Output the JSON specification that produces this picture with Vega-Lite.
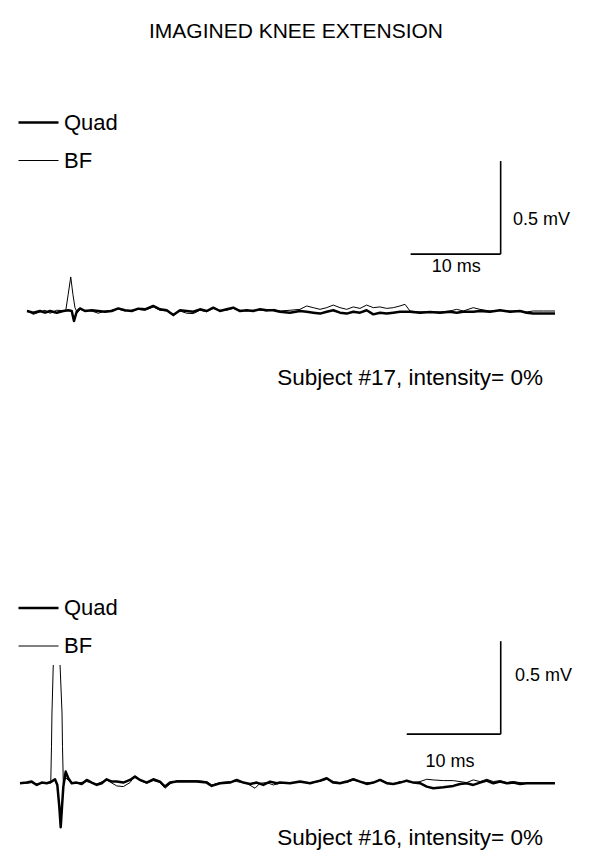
{
"$schema": "https://vega.github.io/schema/vega-lite/v6.json",
"background": "white",
"padding": {"top": 20, "left": 0, "right": 0, "bottom": 0},
"autosize": {"type": "pad"},
"config": {"view": {"stroke": null}, "font": "Liberation Sans"},
"title": {"text": "IMAGINED KNEE EXTENSION", "fontSize": 21, "fontWeight": "normal", "font": "Liberation Sans", "color": "black", "anchor": "middle", "offset": 19.5},
"spacing": 191,
"resolve": {"scale": {"x": "independent", "y": "independent", "strokeWidth": "independent"}, "legend": {"strokeWidth": "independent"}},
"datasets": {
"trace17": [
{"muscle":"Quad","t":0,"v":0},{"muscle":"Quad","t":0.70,"v":-0.009},{"muscle":"Quad","t":1.44,"v":0},{"muscle":"Quad","t":2.0,"v":-0.009},{"muscle":"Quad","t":2.56,"v":0},{"muscle":"Quad","t":3.30,"v":-0.009},{"muscle":"Quad","t":4.03,"v":0},{"muscle":"Quad","t":4.59,"v":0.004},{"muscle":"Quad","t":4.97,"v":0},{"muscle":"Quad","t":5.22,"v":-0.054},{"muscle":"Quad","t":5.52,"v":-0.004},{"muscle":"Quad","t":5.89,"v":0.014},{"muscle":"Quad","t":6.44,"v":0},{"muscle":"Quad","t":7.19,"v":0.004},{"muscle":"Quad","t":7.92,"v":0},{"muscle":"Quad","t":8.67,"v":-0.004},{"muscle":"Quad","t":9.41,"v":0},{"muscle":"Quad","t":10.14,"v":0.014},{"muscle":"Quad","t":10.89,"v":0.004},{"muscle":"Quad","t":11.63,"v":0},{"muscle":"Quad","t":12.37,"v":0.0125},{"muscle":"Quad","t":13.11,"v":0.009},{"muscle":"Quad","t":14.03,"v":0.027},{"muscle":"Quad","t":14.78,"v":0.009},{"muscle":"Quad","t":15.52,"v":0.004},{"muscle":"Quad","t":16.26,"v":-0.022},{"muscle":"Quad","t":17.0,"v":0.004},{"muscle":"Quad","t":17.74,"v":0},{"muscle":"Quad","t":18.48,"v":-0.004},{"muscle":"Quad","t":19.22,"v":0.009},{"muscle":"Quad","t":19.97,"v":0},{"muscle":"Quad","t":20.70,"v":0.018},{"muscle":"Quad","t":21.44,"v":0},{"muscle":"Quad","t":22.19,"v":0.009},{"muscle":"Quad","t":22.92,"v":0.018},{"muscle":"Quad","t":23.67,"v":0},{"muscle":"Quad","t":24.41,"v":0.004},{"muscle":"Quad","t":25.14,"v":0},{"muscle":"Quad","t":25.89,"v":0.009},{"muscle":"Quad","t":26.63,"v":0.004},{"muscle":"Quad","t":27.37,"v":0.004},{"muscle":"Quad","t":28.11,"v":-0.004},{"muscle":"Quad","t":29.22,"v":-0.009},{"muscle":"Quad","t":30.33,"v":0},{"muscle":"Quad","t":31.08,"v":-0.004},{"muscle":"Quad","t":31.81,"v":-0.009},{"muscle":"Quad","t":32.56,"v":-0.014},{"muscle":"Quad","t":33.30,"v":-0.004},{"muscle":"Quad","t":34.03,"v":0.004},{"muscle":"Quad","t":34.78,"v":-0.009},{"muscle":"Quad","t":35.52,"v":-0.014},{"muscle":"Quad","t":36.26,"v":-0.004},{"muscle":"Quad","t":37.0,"v":-0.009},{"muscle":"Quad","t":37.74,"v":0.004},{"muscle":"Quad","t":38.48,"v":-0.018},{"muscle":"Quad","t":39.22,"v":-0.009},{"muscle":"Quad","t":39.97,"v":-0.014},{"muscle":"Quad","t":40.70,"v":-0.009},{"muscle":"Quad","t":41.44,"v":-0.004},{"muscle":"Quad","t":42.0,"v":-0.004},{"muscle":"Quad","t":42.56,"v":-0.004},{"muscle":"Quad","t":43.67,"v":-0.009},{"muscle":"Quad","t":44.78,"v":-0.005},{"muscle":"Quad","t":45.89,"v":-0.009},{"muscle":"Quad","t":47.0,"v":-0.004},{"muscle":"Quad","t":47.74,"v":-0.009},{"muscle":"Quad","t":48.48,"v":-0.004},{"muscle":"Quad","t":49.59,"v":-0.004},{"muscle":"Quad","t":50.33,"v":0},{"muscle":"Quad","t":51.44,"v":-0.004},{"muscle":"Quad","t":52.56,"v":0.004},{"muscle":"Quad","t":53.67,"v":-0.004},{"muscle":"Quad","t":54.78,"v":0},{"muscle":"Quad","t":55.52,"v":-0.009},{"muscle":"Quad","t":56.26,"v":-0.014},{"muscle":"Quad","t":57.37,"v":-0.014},{"muscle":"Quad","t":58.67,"v":-0.014},
{"muscle":"BF","t":0,"v":0.004},{"muscle":"BF","t":0.70,"v":-0.018},{"muscle":"BF","t":1.44,"v":-0.005},{"muscle":"BF","t":2.0,"v":0.004},{"muscle":"BF","t":2.56,"v":-0.012},{"muscle":"BF","t":3.30,"v":0.004},{"muscle":"BF","t":4.03,"v":0.002},{"muscle":"BF","t":4.30,"v":0},{"muscle":"BF","t":4.58,"v":0.09},{"muscle":"BF","t":4.86,"v":0.183},{"muscle":"BF","t":5.10,"v":0.09},{"muscle":"BF","t":5.33,"v":0.018},{"muscle":"BF","t":5.6,"v":-0.01},{"muscle":"BF","t":5.89,"v":0.009},{"muscle":"BF","t":6.44,"v":0.004},{"muscle":"BF","t":7.19,"v":0},{"muscle":"BF","t":7.92,"v":-0.012},{"muscle":"BF","t":8.67,"v":0},{"muscle":"BF","t":9.41,"v":0.004},{"muscle":"BF","t":10.14,"v":0.01},{"muscle":"BF","t":10.89,"v":0},{"muscle":"BF","t":11.63,"v":0.004},{"muscle":"BF","t":12.37,"v":0.009},{"muscle":"BF","t":13.11,"v":0.004},{"muscle":"BF","t":14.03,"v":0.022},{"muscle":"BF","t":14.78,"v":0.004},{"muscle":"BF","t":15.52,"v":0},{"muscle":"BF","t":16.26,"v":-0.018},{"muscle":"BF","t":17.0,"v":0},{"muscle":"BF","t":17.74,"v":-0.012},{"muscle":"BF","t":18.48,"v":-0.014},{"muscle":"BF","t":19.22,"v":0.004},{"muscle":"BF","t":19.97,"v":-0.004},{"muscle":"BF","t":20.70,"v":0.014},{"muscle":"BF","t":21.44,"v":0.004},{"muscle":"BF","t":22.19,"v":0.004},{"muscle":"BF","t":22.92,"v":0.014},{"muscle":"BF","t":23.67,"v":0.004},{"muscle":"BF","t":24.41,"v":0},{"muscle":"BF","t":25.14,"v":0.004},{"muscle":"BF","t":25.89,"v":0.005},{"muscle":"BF","t":26.63,"v":0},{"muscle":"BF","t":27.37,"v":0.009},{"muscle":"BF","t":28.11,"v":0},{"muscle":"BF","t":29.22,"v":0.004},{"muscle":"BF","t":30.33,"v":0.009},{"muscle":"BF","t":31.08,"v":0.027},{"muscle":"BF","t":31.81,"v":0.018},{"muscle":"BF","t":32.56,"v":0.009},{"muscle":"BF","t":33.30,"v":0.018},{"muscle":"BF","t":34.03,"v":0.032},{"muscle":"BF","t":34.78,"v":0.018},{"muscle":"BF","t":35.52,"v":0.009},{"muscle":"BF","t":36.26,"v":0.022},{"muscle":"BF","t":37.0,"v":0.014},{"muscle":"BF","t":37.74,"v":0.032},{"muscle":"BF","t":38.48,"v":0.018},{"muscle":"BF","t":39.22,"v":0.022},{"muscle":"BF","t":39.97,"v":0.014},{"muscle":"BF","t":40.70,"v":0.018},{"muscle":"BF","t":41.44,"v":0.027},{"muscle":"BF","t":42.0,"v":0.036},{"muscle":"BF","t":42.56,"v":0},{"muscle":"BF","t":43.67,"v":-0.005},{"muscle":"BF","t":44.78,"v":-0.004},{"muscle":"BF","t":45.89,"v":-0.005},{"muscle":"BF","t":47.0,"v":0},{"muscle":"BF","t":47.74,"v":0.009},{"muscle":"BF","t":48.48,"v":0},{"muscle":"BF","t":49.59,"v":0.018},{"muscle":"BF","t":50.33,"v":0.009},{"muscle":"BF","t":51.44,"v":0},{"muscle":"BF","t":52.56,"v":0.004},{"muscle":"BF","t":53.67,"v":0},{"muscle":"BF","t":54.78,"v":0},{"muscle":"BF","t":55.52,"v":-0.005},{"muscle":"BF","t":56.26,"v":0},{"muscle":"BF","t":57.37,"v":0},{"muscle":"BF","t":58.67,"v":0}
],
"trace16": [
{"muscle":"Quad","t":0,"v":0.001},{"muscle":"Quad","t":0.71,"v":0.0045},{"muscle":"Quad","t":1.24,"v":0.0099},{"muscle":"Quad","t":1.78,"v":-0.0081},{"muscle":"Quad","t":2.31,"v":0.0045},{"muscle":"Quad","t":2.84,"v":0.001},{"muscle":"Quad","t":3.37,"v":0.0099},{"muscle":"Quad","t":3.72,"v":0.0224},{"muscle":"Quad","t":3.97,"v":-0.0081},{"muscle":"Quad","t":4.18,"v":-0.1245},{"muscle":"Quad","t":4.33,"v":-0.2357},{"muscle":"Quad","t":4.47,"v":-0.1245},{"muscle":"Quad","t":4.61,"v":-0.017},{"muscle":"Quad","t":4.86,"v":0.0636},{"muscle":"Quad","t":5.14,"v":0.0278},{"muscle":"Quad","t":5.50,"v":0.001},{"muscle":"Quad","t":6.03,"v":0.0045},{"muscle":"Quad","t":6.56,"v":-0.0027},{"muscle":"Quad","t":7.10,"v":0.0188},{"muscle":"Quad","t":7.63,"v":0.0045},{"muscle":"Quad","t":8.16,"v":-0.0081},{"muscle":"Quad","t":8.69,"v":0.001},{"muscle":"Quad","t":9.22,"v":0.0224},{"muscle":"Quad","t":9.76,"v":0.0099},{"muscle":"Quad","t":10.29,"v":0.0099},{"muscle":"Quad","t":10.99,"v":0.0045},{"muscle":"Quad","t":11.70,"v":0.0188},{"muscle":"Quad","t":12.23,"v":0.0367},{"muscle":"Quad","t":12.77,"v":0.0188},{"muscle":"Quad","t":13.48,"v":0.0045},{"muscle":"Quad","t":14.18,"v":0.0224},{"muscle":"Quad","t":14.89,"v":0.0099},{"muscle":"Quad","t":15.43,"v":-0.017},{"muscle":"Quad","t":15.96,"v":0.0045},{"muscle":"Quad","t":16.67,"v":0.0099},{"muscle":"Quad","t":17.73,"v":0.0099},{"muscle":"Quad","t":18.80,"v":0.0099},{"muscle":"Quad","t":19.86,"v":0.0045},{"muscle":"Quad","t":20.39,"v":-0.0134},{"muscle":"Quad","t":21.28,"v":0.001},{"muscle":"Quad","t":22.34,"v":0.0045},{"muscle":"Quad","t":23.05,"v":0.0188},{"muscle":"Quad","t":23.76,"v":0.0045},{"muscle":"Quad","t":24.47,"v":-0.0027},{"muscle":"Quad","t":25.18,"v":0.0045},{"muscle":"Quad","t":25.88,"v":-0.0081},{"muscle":"Quad","t":26.60,"v":0.0099},{"muscle":"Quad","t":27.31,"v":0.001},{"muscle":"Quad","t":27.66,"v":0.0045},{"muscle":"Quad","t":28.72,"v":0.001},{"muscle":"Quad","t":29.79,"v":0.0099},{"muscle":"Quad","t":30.85,"v":0.001},{"muscle":"Quad","t":31.91,"v":0.0152},{"muscle":"Quad","t":32.63,"v":0.0278},{"muscle":"Quad","t":33.33,"v":0.0045},{"muscle":"Quad","t":34.04,"v":0.001},{"muscle":"Quad","t":34.76,"v":0.0099},{"muscle":"Quad","t":35.46,"v":0.0224},{"muscle":"Quad","t":36.17,"v":0.0099},{"muscle":"Quad","t":36.88,"v":-0.0027},{"muscle":"Quad","t":37.59,"v":0.0045},{"muscle":"Quad","t":38.30,"v":0.0188},{"muscle":"Quad","t":39.01,"v":0.001},{"muscle":"Quad","t":39.71,"v":-0.0027},{"muscle":"Quad","t":40.43,"v":0.0045},{"muscle":"Quad","t":41.14,"v":0.0152},{"muscle":"Quad","t":41.84,"v":0.0045},{"muscle":"Quad","t":42.55,"v":0.001},{"muscle":"Quad","t":43.27,"v":-0.017},{"muscle":"Quad","t":43.97,"v":-0.026},{"muscle":"Quad","t":45.03,"v":-0.0206},{"muscle":"Quad","t":46.10,"v":-0.0134},{"muscle":"Quad","t":46.81,"v":-0.0027},{"muscle":"Quad","t":47.52,"v":0.001},{"muscle":"Quad","t":48.22,"v":-0.0081},{"muscle":"Quad","t":48.94,"v":0.0045},{"muscle":"Quad","t":49.65,"v":0.0152},{"muscle":"Quad","t":50.35,"v":0.001},{"muscle":"Quad","t":51.06,"v":0.0099},{"muscle":"Quad","t":51.78,"v":0.001},{"muscle":"Quad","t":52.48,"v":0.0045},{"muscle":"Quad","t":53.19,"v":-0.0027},{"muscle":"Quad","t":53.90,"v":0.001},{"muscle":"Quad","t":54.61,"v":0.001},{"muscle":"Quad","t":56.91,"v":0.001},
{"muscle":"BF","t":0,"v":0.001},{"muscle":"BF","t":0.71,"v":0.001},{"muscle":"BF","t":1.24,"v":0.0045},{"muscle":"BF","t":1.78,"v":-0.0027},{"muscle":"BF","t":2.31,"v":0.001},{"muscle":"BF","t":2.84,"v":0.0045},{"muscle":"BF","t":3.27,"v":0.001},{"muscle":"BF","t":3.35,"v":0.2},{"muscle":"BF","t":3.40,"v":0.379},{"muscle":"BF","t":3.54,"v":0.637},{"muscle":"BF","t":3.9,"v":null},{"muscle":"BF","t":4.26,"v":0.637},{"muscle":"BF","t":4.47,"v":0.379},{"muscle":"BF","t":4.52,"v":0.2},{"muscle":"BF","t":4.61,"v":0},{"muscle":"BF","t":4.86,"v":0.03},{"muscle":"BF","t":5.50,"v":0.001},{"muscle":"BF","t":6.03,"v":0.001},{"muscle":"BF","t":7.10,"v":0.0099},{"muscle":"BF","t":8.16,"v":-0.0027},{"muscle":"BF","t":9.22,"v":0.0188},{"muscle":"BF","t":10.29,"v":-0.0134},{"muscle":"BF","t":10.99,"v":-0.017},{"muscle":"BF","t":11.70,"v":0.0045},{"muscle":"BF","t":12.23,"v":0.0403},{"muscle":"BF","t":12.77,"v":0.0152},{"muscle":"BF","t":13.48,"v":0.001},{"muscle":"BF","t":14.18,"v":0.0152},{"muscle":"BF","t":14.89,"v":0.0045},{"muscle":"BF","t":15.43,"v":-0.026},{"muscle":"BF","t":15.96,"v":-0.0027},{"muscle":"BF","t":16.67,"v":0.0152},{"muscle":"BF","t":17.73,"v":0.0152},{"muscle":"BF","t":18.80,"v":0.0152},{"muscle":"BF","t":19.86,"v":0.0099},{"muscle":"BF","t":20.39,"v":-0.0081},{"muscle":"BF","t":21.28,"v":0.0045},{"muscle":"BF","t":22.34,"v":0.0099},{"muscle":"BF","t":23.05,"v":0.0099},{"muscle":"BF","t":24.12,"v":0.001},{"muscle":"BF","t":25.0,"v":-0.026},{"muscle":"BF","t":25.53,"v":0.001},{"muscle":"BF","t":26.24,"v":0.0045},{"muscle":"BF","t":26.95,"v":-0.0081},{"muscle":"BF","t":27.66,"v":0.001},{"muscle":"BF","t":28.72,"v":0.0045},{"muscle":"BF","t":29.79,"v":0.0045},{"muscle":"BF","t":30.85,"v":0.0045},{"muscle":"BF","t":31.91,"v":0.0099},{"muscle":"BF","t":32.63,"v":0.0224},{"muscle":"BF","t":33.33,"v":0.0099},{"muscle":"BF","t":34.04,"v":0.0045},{"muscle":"BF","t":34.76,"v":0.0045},{"muscle":"BF","t":35.46,"v":0.0188},{"muscle":"BF","t":36.17,"v":0.0099},{"muscle":"BF","t":36.88,"v":0.0045},{"muscle":"BF","t":37.59,"v":0.0045},{"muscle":"BF","t":38.30,"v":0.0224},{"muscle":"BF","t":39.01,"v":0.0045},{"muscle":"BF","t":39.71,"v":-0.0027},{"muscle":"BF","t":40.43,"v":0.0099},{"muscle":"BF","t":41.14,"v":0.0099},{"muscle":"BF","t":41.84,"v":0.0045},{"muscle":"BF","t":42.55,"v":0.0099},{"muscle":"BF","t":43.27,"v":0.0224},{"muscle":"BF","t":43.97,"v":0.0188},{"muscle":"BF","t":45.03,"v":0.0152},{"muscle":"BF","t":46.10,"v":0.0152},{"muscle":"BF","t":46.81,"v":0.0099},{"muscle":"BF","t":47.52,"v":0.0045},{"muscle":"BF","t":48.22,"v":0.0188},{"muscle":"BF","t":48.94,"v":0.0099},{"muscle":"BF","t":49.65,"v":0.0224},{"muscle":"BF","t":50.35,"v":0.0099},{"muscle":"BF","t":51.06,"v":0.0152},{"muscle":"BF","t":51.78,"v":0.0045},{"muscle":"BF","t":52.48,"v":0.0099},{"muscle":"BF","t":53.19,"v":0.0045},{"muscle":"BF","t":53.90,"v":0.001},{"muscle":"BF","t":54.61,"v":0.001},{"muscle":"BF","t":56.91,"v":0.001}
],
"bar17": [{"t0": 42.63, "t1": 52.63, "v0": 0.306, "v1": 0.806}],
"bar16": [{"t0": 41.14, "t1": 51.14, "v0": 0.265, "v1": 0.765}],
"lab17": [{"text": "10 ms", "t": 47.7, "v": 0.211}, {"text": "0.5 mV", "t": 54.0, "v": 0.462}],
"lab16": [{"text": "10 ms", "t": 45.74, "v": 0.09}, {"text": "0.5 mV", "t": 52.66, "v": 0.551}]
},
"vconcat": [
{
"width": 592, "height": 290,
"title": {"text": "Subject #17, intensity= 0%", "orient": "bottom", "anchor": "end", "frame": "group", "fontSize": 22.5, "fontWeight": "normal", "font": "Liberation Sans", "color": "black", "offset": 15.5, "dx": -49},
"layer": [
{"data": {"name": "trace17"},
 "mark": {"type": "line", "color": "black", "strokeJoin": "round", "invalid": "break-paths-filter-domains"},
 "encoding": {
  "x": {"field": "t", "type": "quantitative", "scale": {"domain": [-3, 62.78], "nice": false, "zero": false}, "axis": null},
  "y": {"field": "v", "type": "quantitative", "scale": {"domain": [-0.215, 1.344], "nice": false, "zero": false}, "axis": null},
  "strokeWidth": {"field": "muscle", "type": "ordinal", "scale": {"domain": ["Quad", "BF"], "range": [2.5, 1]},
   "legend": {"orient": "none", "legendX": 17, "legendY": 40, "title": null, "symbolType": "stroke", "symbolSize": 1600, "symbolStrokeColor": "black", "symbolFillColor": "transparent", "labelFontSize": 22, "labelFont": "Liberation Sans", "labelColor": "black", "labelOffset": 4, "rowPadding": 6, "padding": 0}}
 }},
{"data": {"name": "bar17"}, "mark": {"type": "rule", "color": "black", "strokeWidth": 1.6},
 "encoding": {"x": {"field": "t0", "type": "quantitative"}, "x2": {"field": "t1"}, "y": {"field": "v0", "type": "quantitative"}}},
{"data": {"name": "bar17"}, "mark": {"type": "rule", "color": "black", "strokeWidth": 1.6},
 "encoding": {"x": {"field": "t1", "type": "quantitative"}, "y": {"field": "v0", "type": "quantitative"}, "y2": {"field": "v1"}}},
{"data": {"name": "lab17"}, "transform": [{"filter": "datum.text == '10 ms'"}],
 "mark": {"type": "text", "align": "center", "baseline": "alphabetic", "fontSize": 18, "font": "Liberation Sans", "color": "black"},
 "encoding": {"x": {"field": "t", "type": "quantitative"}, "y": {"field": "v", "type": "quantitative"}, "text": {"field": "text"}}},
{"data": {"name": "lab17"}, "transform": [{"filter": "datum.text == '0.5 mV'"}],
 "mark": {"type": "text", "align": "left", "baseline": "alphabetic", "fontSize": 18, "font": "Liberation Sans", "color": "black"},
 "encoding": {"x": {"field": "t", "type": "quantitative"}, "y": {"field": "v", "type": "quantitative"}, "text": {"field": "text"}}}
]
},
{
"width": 592, "height": 225,
"title": {"text": "Subject #16, intensity= 0%", "orient": "bottom", "anchor": "end", "frame": "group", "fontSize": 22.5, "fontWeight": "normal", "font": "Liberation Sans", "color": "black", "offset": -2, "dx": -49},
"layer": [
{"data": {"name": "trace16"},
 "mark": {"type": "line", "color": "black", "strokeJoin": "round", "invalid": "break-paths-filter-domains"},
 "encoding": {
  "x": {"field": "t", "type": "quantitative", "scale": {"domain": [-2.128, 60.85], "nice": false, "zero": false}, "axis": null},
  "y": {"field": "v", "type": "quantitative", "scale": {"domain": [-0.116, 1.094], "nice": false, "zero": false}, "axis": null},
  "strokeWidth": {"field": "muscle", "type": "ordinal", "scale": {"domain": ["Quad", "BF"], "range": [2.5, 1]},
   "legend": {"orient": "none", "legendX": 17, "legendY": 6.5, "title": null, "symbolType": "stroke", "symbolSize": 1600, "symbolStrokeColor": "black", "symbolFillColor": "transparent", "labelFontSize": 22, "labelFont": "Liberation Sans", "labelColor": "black", "labelOffset": 4, "rowPadding": 6, "padding": 0}}
 }},
{"data": {"name": "bar16"}, "mark": {"type": "rule", "color": "black", "strokeWidth": 1.6},
 "encoding": {"x": {"field": "t0", "type": "quantitative"}, "x2": {"field": "t1"}, "y": {"field": "v0", "type": "quantitative"}}},
{"data": {"name": "bar16"}, "mark": {"type": "rule", "color": "black", "strokeWidth": 1.6},
 "encoding": {"x": {"field": "t1", "type": "quantitative"}, "y": {"field": "v0", "type": "quantitative"}, "y2": {"field": "v1"}}},
{"data": {"name": "lab16"}, "transform": [{"filter": "datum.text == '10 ms'"}],
 "mark": {"type": "text", "align": "center", "baseline": "alphabetic", "fontSize": 18, "font": "Liberation Sans", "color": "black"},
 "encoding": {"x": {"field": "t", "type": "quantitative"}, "y": {"field": "v", "type": "quantitative"}, "text": {"field": "text"}}},
{"data": {"name": "lab16"}, "transform": [{"filter": "datum.text == '0.5 mV'"}],
 "mark": {"type": "text", "align": "left", "baseline": "alphabetic", "fontSize": 18, "font": "Liberation Sans", "color": "black"},
 "encoding": {"x": {"field": "t", "type": "quantitative"}, "y": {"field": "v", "type": "quantitative"}, "text": {"field": "text"}}}
]
}
]
}
